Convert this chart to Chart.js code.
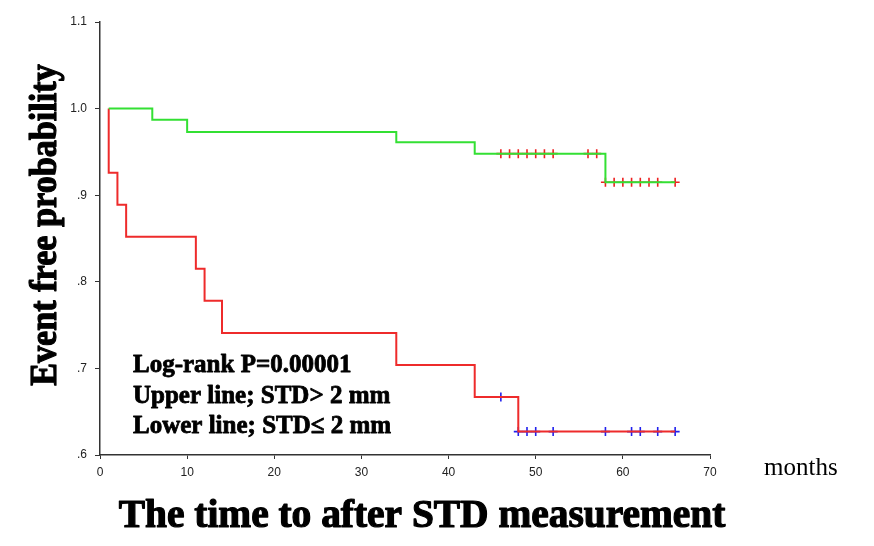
<!DOCTYPE html>
<html>
<head>
<meta charset="utf-8">
<script src="https://cdn.jsdelivr.net/npm/chart.js@4"></script>
<style>
  html, body { margin: 0; padding: 0; background: #fff; }
  #wrap { width: 874px; height: 546px; }
</style>
</head>
<body>
<div id="wrap"><canvas id="kmChart" width="874" height="546"></canvas></div>
<script>
// Kaplan-Meier steps
const upperTimes = [1, 6, 10, 34, 43, 58, 66];
const upperSurv = [1.0, 0.987, 0.973, 0.961, 0.948, 0.915, 0.915];
const lowerTimes = [1, 1, 2, 3, 11, 12, 14, 34, 43, 48, 66];
const lowerSurv = [1.0, 0.926, 0.889, 0.852, 0.815, 0.778, 0.741, 0.704, 0.667, 0.627, 0.627];

// censored observations (months)
const upperCensor = [46, 47, 48, 49, 50, 51, 52, 56, 57, 58, 59, 60, 61, 62, 63, 64, 66];
const lowerCensor = [46, 48, 49, 50, 52, 58, 61, 62, 64, 66];

const xTicks = [0, 10, 20, 30, 40, 50, 60, 70];
const yTickLabels = { "0.6": ".6", "0.7": ".7", "0.8": ".8", "0.9": ".9", "1.0": "1.0", "1.1": "1.1" };

const noteLines = ["Log-rank P=0.00001", "Upper line; STD> 2 mm", "Lower line; STD\u2264 2 mm"];

function toPoints(times, surv) {
    return times.map((t, i) => ({ x: t, y: surv[i] }));
}

// survival level at time t (last step at or before t)
function levelAt(times, surv, t) {
    let s = surv[0];
    for (let i = 0; i < times.length; i++) {
        if (times[i] <= t) s = surv[i];
    }
    return s;
}

function censorPoints(censor, times, surv) {
    return censor.map(t => ({ x: t, y: levelAt(times, surv, t) }));
}

const serif = "'Liberation Serif', 'Times New Roman', serif";

// heavy text: fill plus a thin stroke, the original is very black
function heavyText(c, str, x, y, w) {
    c.lineWidth = w;
    c.strokeText(str, x, y);
    c.fillText(str, x, y);
}

const textPlugin = {
    id: "kmText",
    afterDraw(chart) {
        const c = chart.ctx;
        c.save();
        c.fillStyle = "#000";
        c.strokeStyle = "#000";
        c.lineJoin = "round";
        c.textBaseline = "alphabetic";

        // y title (condensed like the original)
        c.save();
        c.translate(56, 225);
        c.rotate(-Math.PI / 2);
        c.scale(0.9, 1);
        c.textAlign = "center";
        c.font = "bold 38px " + serif;
        heavyText(c, "Event free probability", 0, 0, 1.2);
        c.restore();

        // x title
        c.save();
        c.translate(422, 527);
        c.scale(0.985, 1);
        c.textAlign = "center";
        c.font = "bold 40px " + serif;
        heavyText(c, "The time to after STD measurement", 0, 0, 1.2);
        c.restore();

        // unit
        c.textAlign = "left";
        c.font = "25px " + serif;
        c.fillText("months", 764, 475);

        // note
        c.font = "bold 25px " + serif;
        noteLines.forEach((line, i) => {
            heavyText(c, line, 133, 372 + i * 30.5, 0.8);
        });
        c.restore();
    }
};

const ctx = document.getElementById("kmChart").getContext("2d");
const kmChart = new Chart(ctx, {
    type: "scatter",
    data: {
        datasets: [
            {
                label: "Upper line",
                data: toPoints(upperTimes, upperSurv),
                showLine: true,
                stepped: true,
                borderColor: "#33e033",
                borderWidth: 2,
                pointRadius: 0,
                fill: false
            },
            {
                label: "Lower line",
                data: toPoints(lowerTimes, lowerSurv),
                showLine: true,
                stepped: true,
                borderColor: "#ee2b2b",
                borderWidth: 2,
                pointRadius: 0,
                fill: false
            },
            {
                label: "Upper censored",
                data: censorPoints(upperCensor, upperTimes, upperSurv),
                pointStyle: "cross",
                pointRadius: 4.5,
                borderColor: "#ee2020",
                borderWidth: 1.6
            },
            {
                label: "Lower censored",
                data: censorPoints(lowerCensor, lowerTimes, lowerSurv),
                pointStyle: "cross",
                pointRadius: 4.5,
                borderColor: "#2020ee",
                borderWidth: 1.6
            }
        ]
    },
    options: {
        responsive: false,
        animation: false,
        layout: { padding: { left: 0, right: 164, top: 22, bottom: 0 } },
        plugins: {
            legend: { display: false },
            tooltip: { enabled: false }
        },
        scales: {
            x: {
                type: "linear",
                min: 0,
                max: 70,
                afterBuildTicks: (scale) => { scale.ticks = xTicks.map(v => ({ value: v })); },
                afterFit: (scale) => { scale.height = 91; },
                grid: { drawOnChartArea: false, color: "#333", tickLength: 4 },
                border: { color: "#333", width: 1.5 },
                ticks: {
                    color: "#222",
                    padding: 6,
                    font: { family: "Arial, 'Liberation Sans', sans-serif", size: 12 }
                }
            },
            y: {
                type: "linear",
                min: 0.6,
                max: 1.1,
                afterBuildTicks: (scale) => {
                    scale.ticks = Object.keys(yTickLabels).map(k => ({ value: parseFloat(k) }));
                },
                afterFit: (scale) => { scale.width = 100; },
                grid: { drawOnChartArea: false, color: "#333", tickLength: 5 },
                border: { color: "#333", width: 1.5 },
                ticks: {
                    color: "#222",
                    padding: 8,
                    font: { family: "Arial, 'Liberation Sans', sans-serif", size: 12 },
                    callback: (v) => yTickLabels[v.toFixed(1)]
                }
            }
        }
    },
    plugins: [textPlugin]
});
</script>
</body>
</html>
